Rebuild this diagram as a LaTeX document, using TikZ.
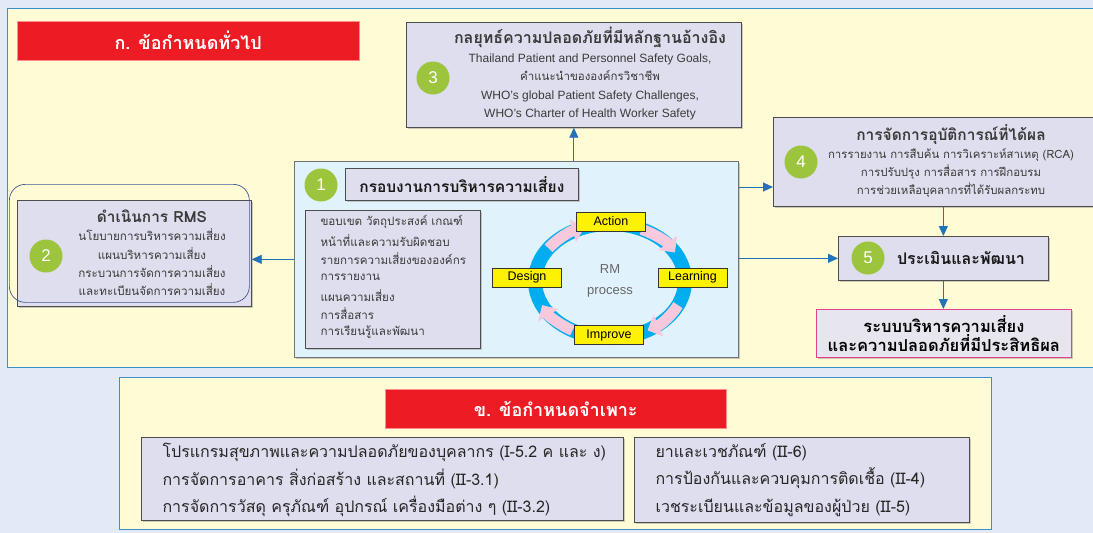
\documentclass[tikz,border=0pt]{standalone}
\usepackage{fontspec}
\setmainfont{Liberation Sans}
\newfontfamily\thai[Script=Thai]{Loma}
\usetikzlibrary{arrows.meta,shadows}

\definecolor{bgblue}{HTML}{E3EAF7}
\definecolor{panelfill}{HTML}{FFFBD5}
\definecolor{panelline}{HTML}{3A8FCF}
\definecolor{boxfill}{HTML}{DFDEEE}
\definecolor{boxline}{HTML}{4D4D4D}
\definecolor{framefill}{HTML}{E0F3FD}
\definecolor{bannerred}{HTML}{ED1C24}
\definecolor{numgreen}{HTML}{9CC43C}
\definecolor{ringcyan}{HTML}{00ADEF}
\definecolor{ringpink}{HTML}{F8C9DD}
\definecolor{labelyellow}{HTML}{FFF200}
\definecolor{linkblue}{HTML}{2272B8}
\definecolor{resultfill}{HTML}{E7E6EE}
\definecolor{resultline}{HTML}{E0408C}
\definecolor{ringline}{HTML}{3F5A8F}
\definecolor{txt}{HTML}{3A3A3A}

\begin{document}
\begin{tikzpicture}[x=1pt,y=-1pt,
    panel/.style={draw=panelline,fill=panelfill,line width=0.8pt,anchor=north west,inner sep=0pt},
    banner/.style={draw=red!45,fill=bannerred,text=white,anchor=north west,inner sep=0pt,
      font=\thai\bfseries\fontsize{18}{20}\selectfont},
    box/.style={draw=boxline,fill=boxfill,line width=0.7pt,anchor=north west,inner sep=0pt,
      drop shadow={shadow xshift=1.2pt,shadow yshift=-1.2pt,fill=black!40}},
    num/.style={circle,fill=numgreen,text=white,minimum size=33pt,inner sep=0pt,
      font=\fontsize{17}{17}\selectfont},
    head/.style={font=\thai\bfseries\fontsize{15.5}{17}\selectfont,text=black!90},
    body/.style={font=\thai\fontsize{11.6}{18.3}\selectfont,text=txt,align=center},
    tag/.style={draw=black!80,fill=labelyellow,minimum width=69pt,minimum height=19pt,
      inner sep=0pt,font=\fontsize{12.5}{12}\selectfont},
    link/.style={draw=linkblue,line width=0.9pt,-{Triangle[length=10pt,width=9pt]}},
    pinkarrow/.style={draw=ringpink,line width=11pt,-{Triangle[length=12pt,width=23pt]}}]

  \useasboundingbox (0,0) rectangle (1093,533);
  \fill[bgblue] (0,0) rectangle (1093,533);

  % panels
  \node[panel,minimum width=1093pt,minimum height=359pt] (general) at (7,8) {};
  \node[panel,minimum width=872pt,minimum height=152pt] (specific) at (119,377) {};
  \node[banner,minimum width=342pt,minimum height=39pt] (ban1) at (17,21) {ก. ข้อกำหนดทั่วไป};
  \node[banner,minimum width=341pt,minimum height=39pt] (ban2) at (385,389) {ข. ข้อกำหนดจำเพาะ};

  % boxes
  \node[box,minimum width=335pt,minimum height=105pt] (b3) at (406,22) {};
  \node[box,minimum width=330pt,minimum height=89pt] (b4) at (773,117) {};
  \node[box,minimum width=210pt,minimum height=44pt] (b5) at (838,236) {};
  \node[box,draw=resultline,fill=resultfill,minimum width=255pt,minimum height=48pt,
    font=\thai\bfseries\fontsize{16.5}{19}\selectfont,align=center] (res) at (816,309)
    {ระบบบริหารความเสี่ยง\\และความปลอดภัยที่มีประสิทธิผล};
  \node[box,minimum width=234pt,minimum height=106pt] (b2) at (17,200) {};
  \node[draw=ringline,line width=0.7pt,rounded corners=16pt,anchor=north west,
    minimum width=240pt,minimum height=118pt] (b2ring) at (9,184) {};
  \node[box,fill=framefill,draw=black!55,minimum width=444pt,minimum height=196pt] (b1) at (294,161) {};
  \node[box,minimum width=233pt,minimum height=32pt,head] (t1) at (345,168) {กรอบงานการบริหารความเสี่ยง};
  \node[box,minimum width=175pt,minimum height=138pt] (l1) at (305,210) {};
  \node[box,minimum width=482pt,minimum height=83pt] (s1) at (141,437) {};
  \node[box,minimum width=335pt,minimum height=85pt] (s2) at (634,437) {};

  % numbers
  \node[num] (c1) at (321,185) {1};
  \node[num] (c2) at (46,256) {2};
  \node[num] (c3) at (433,78) {3};
  \node[num] (c4) at (801,162) {4};
  \node[num] (c5) at (868,258) {5};

  % texts
  \node[body,font=\fontsize{12}{18.5}\selectfont] (b3text) at (590,74)
    {{\thai\bfseries\fontsize{16}{17}\selectfont กลยุทธ์ความปลอดภัยที่มีหลักฐานอ้างอิง}\\
     Thailand Patient and Personnel Safety Goals,\\
     {\thai\fontsize{11.5}{12}\selectfont คำแนะนำขององค์กรวิชาชีพ}\\
     WHO's global Patient Safety Challenges,\\
     WHO's Charter of Health Worker Safety};
  \node[body,font=\thai\fontsize{11.4}{18.3}\selectfont] (b4text) at (951,161)
    {{\bfseries\fontsize{15.5}{17}\selectfont การจัดการอุบัติการณ์ที่ได้ผล}\\
     การรายงาน การสืบค้น การวิเคราะห์สาเหตุ (RCA)\\
     การปรับปรุง การสื่อสาร การฝึกอบรม\\
     การช่วยเหลือบุคลากรที่ได้รับผลกระทบ};
  \node[head,font=\thai\bfseries\fontsize{16}{18}\selectfont] (b5text) at (961,258) {ประเมินและพัฒนา};
  \node[body] (b2text) at (152,253)
    {{\bfseries\fontsize{15.4}{17}\selectfont ดำเนินการ RMS}\\
     นโยบายการบริหารความเสี่ยง\\
     แผนบริหารความเสี่ยง\\
     กระบวนการจัดการความเสี่ยง\\
     และทะเบียนจัดการความเสี่ยง};

  \foreach \txt [count=\i] in {ขอบเขต วัตถุประสงค์ เกณฑ์,
      หน้าที่และความรับผิดชอบ,
      รายการความเสี่ยงขององค์กร,
      การรายงาน,
      แผนความเสี่ยง,
      การสื่อสาร,
      การเรียนรู้และพัฒนา} {
    \node[body,anchor=west] (line\i) at (317,203.7+18.3*\i) {\txt};
  }

  % RM cycle
  \coordinate (cyc) at (610,281);
  \draw[ringcyan,line width=14pt] (cyc) ellipse [x radius=75,y radius=57];
  \foreach \a / \b in {-145/-110, -65/-30, 25/60, 120/155} {
    \draw[pinkarrow] (cyc) ++(\a:75 and 57) arc[start angle=\a,end angle=\b,x radius=75,y radius=57];
  }
  \foreach \id / \x / \y / \lbl in {act/611/221.5/Action, lrn/692.5/277.5/Learning,
      imp/609/335/Improve, des/527/277.5/Design} {
    \node[tag] (\id) at (\x,\y) {\lbl};
  }
  \node[text=black!60,font=\fontsize{13}{21}\selectfont,align=center] (rm) at (610,281) {RM\\process};

  \node[font=\thai\fontsize{16}{27.5}\selectfont,text=black!85,align=left,anchor=west] (s1text) at (159,480)
    {โปรแกรมสุขภาพและความปลอดภัยของบุคลากร (I-5.2 ค และ ง)\\
     การจัดการอาคาร สิ่งก่อสร้าง และสถานที่ (II-3.1)\\
     การจัดการวัสดุ ครุภัณฑ์ อุปกรณ์ เครื่องมือต่าง ๆ (II-3.2)};
  \node[font=\thai\fontsize{16}{27.5}\selectfont,text=black!85,align=left,anchor=west] (s2text) at (652,480)
    {ยาและเวชภัณฑ์ (II-6)\\
     การป้องกันและควบคุมการติดเชื้อ (II-4)\\
     เวชระเบียนและข้อมูลของผู้ป่วย (II-5)};

  % links
  \coordinate (t4) at ([yshift=-26pt]b1.north east);
  \draw[link] (b3.south |- b1.north) -- (b3.south);
  \draw[link] (b1.west) -- (b1.west -| b2.east);
  \draw[link] (t4) -- (t4 -| b4.west);
  \draw[link] (b5.west -| b1.east) -- (b5.west);
  \draw[link] (b5.north |- b4.south) -- (b5.north);
  \draw[link] (b5.south) -- (b5.south |- res.north);
\end{tikzpicture}
\end{document}
